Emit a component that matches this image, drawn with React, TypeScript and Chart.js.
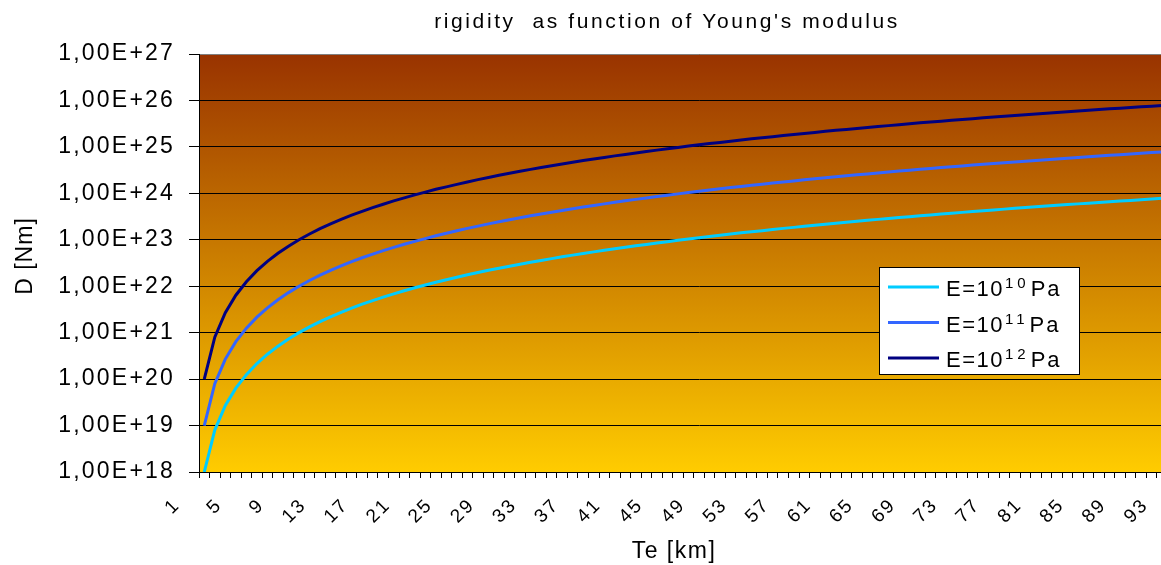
import React, { useEffect, useRef } from "react";
import { Chart, registerables } from "chart.js";
Chart.register(...registerables);

const chartTitle = "rigidity  as function of Young's modulus";
const xAxisTitle = "Te [km]";
const yAxisTitle = "D [Nm]";

const teLabels = [
  "1", "2", "3", "4", "5", "6", "7", "8", "9", "10",
  "11", "12", "13", "14", "15", "16", "17", "18", "19", "20",
  "21", "22", "23", "24", "25", "26", "27", "28", "29", "30",
  "31", "32", "33", "34", "35", "36", "37", "38", "39", "40",
  "41", "42", "43", "44", "45", "46", "47", "48", "49", "50",
  "51", "52", "53", "54", "55", "56", "57", "58", "59", "60",
  "61", "62", "63", "64", "65", "66", "67", "68", "69", "70",
  "71", "72", "73", "74", "75", "76", "77", "78", "79", "80",
  "81", "82", "83", "84", "85", "86", "87", "88", "89", "90",
  "91", "92", "93", "94", "95",
];

const rigidityE10 = [
  1e18, 8e18, 2.7e19, 6.4e19, 1.25e20, 2.16e20, 3.43e20, 5.12e20, 7.29e20, 1e21,
  1.33e21, 1.73e21, 2.2e21, 2.74e21, 3.38e21, 4.1e21, 4.91e21, 5.83e21, 6.86e21, 8e21,
  9.26e21, 1.06e22, 1.22e22, 1.38e22, 1.56e22, 1.76e22, 1.97e22, 2.2e22, 2.44e22, 2.7e22,
  2.98e22, 3.28e22, 3.59e22, 3.93e22, 4.29e22, 4.67e22, 5.07e22, 5.49e22, 5.93e22, 6.4e22,
  6.89e22, 7.41e22, 7.95e22, 8.52e22, 9.11e22, 9.73e22, 1.04e23, 1.11e23, 1.18e23, 1.25e23,
  1.33e23, 1.41e23, 1.49e23, 1.57e23, 1.66e23, 1.76e23, 1.85e23, 1.95e23, 2.05e23, 2.16e23,
  2.27e23, 2.38e23, 2.5e23, 2.62e23, 2.75e23, 2.87e23, 3.01e23, 3.14e23, 3.29e23, 3.43e23,
  3.58e23, 3.73e23, 3.89e23, 4.05e23, 4.22e23, 4.39e23, 4.57e23, 4.75e23, 4.93e23, 5.12e23,
  5.31e23, 5.51e23, 5.72e23, 5.93e23, 6.14e23, 6.36e23, 6.59e23, 6.81e23, 7.05e23, 7.29e23,
  7.54e23, 7.79e23, 8.04e23, 8.31e23, 8.57e23,
];

const rigidityE11 = [
  1e19, 8e19, 2.7e20, 6.4e20, 1.25e21, 2.16e21, 3.43e21, 5.12e21, 7.29e21, 1e22,
  1.33e22, 1.73e22, 2.2e22, 2.74e22, 3.38e22, 4.1e22, 4.91e22, 5.83e22, 6.86e22, 8e22,
  9.26e22, 1.06e23, 1.22e23, 1.38e23, 1.56e23, 1.76e23, 1.97e23, 2.2e23, 2.44e23, 2.7e23,
  2.98e23, 3.28e23, 3.59e23, 3.93e23, 4.29e23, 4.67e23, 5.07e23, 5.49e23, 5.93e23, 6.4e23,
  6.89e23, 7.41e23, 7.95e23, 8.52e23, 9.11e23, 9.73e23, 1.04e24, 1.11e24, 1.18e24, 1.25e24,
  1.33e24, 1.41e24, 1.49e24, 1.57e24, 1.66e24, 1.76e24, 1.85e24, 1.95e24, 2.05e24, 2.16e24,
  2.27e24, 2.38e24, 2.5e24, 2.62e24, 2.75e24, 2.87e24, 3.01e24, 3.14e24, 3.29e24, 3.43e24,
  3.58e24, 3.73e24, 3.89e24, 4.05e24, 4.22e24, 4.39e24, 4.57e24, 4.75e24, 4.93e24, 5.12e24,
  5.31e24, 5.51e24, 5.72e24, 5.93e24, 6.14e24, 6.36e24, 6.59e24, 6.81e24, 7.05e24, 7.29e24,
  7.54e24, 7.79e24, 8.04e24, 8.31e24, 8.57e24,
];

const rigidityE12 = [
  1e20, 8e20, 2.7e21, 6.4e21, 1.25e22, 2.16e22, 3.43e22, 5.12e22, 7.29e22, 1e23,
  1.33e23, 1.73e23, 2.2e23, 2.74e23, 3.38e23, 4.1e23, 4.91e23, 5.83e23, 6.86e23, 8e23,
  9.26e23, 1.06e24, 1.22e24, 1.38e24, 1.56e24, 1.76e24, 1.97e24, 2.2e24, 2.44e24, 2.7e24,
  2.98e24, 3.28e24, 3.59e24, 3.93e24, 4.29e24, 4.67e24, 5.07e24, 5.49e24, 5.93e24, 6.4e24,
  6.89e24, 7.41e24, 7.95e24, 8.52e24, 9.11e24, 9.73e24, 1.04e25, 1.11e25, 1.18e25, 1.25e25,
  1.33e25, 1.41e25, 1.49e25, 1.57e25, 1.66e25, 1.76e25, 1.85e25, 1.95e25, 2.05e25, 2.16e25,
  2.27e25, 2.38e25, 2.5e25, 2.62e25, 2.75e25, 2.87e25, 3.01e25, 3.14e25, 3.29e25, 3.43e25,
  3.58e25, 3.73e25, 3.89e25, 4.05e25, 4.22e25, 4.39e25, 4.57e25, 4.75e25, 4.93e25, 5.12e25,
  5.31e25, 5.51e25, 5.72e25, 5.93e25, 6.14e25, 6.36e25, 6.59e25, 6.81e25, 7.05e25, 7.29e25,
  7.54e25, 7.79e25, 8.04e25, 8.31e25, 8.57e25,
];

const yTickValues = [1e18, 1e19, 1e20, 1e21, 1e22, 1e23, 1e24, 1e25, 1e26, 1e27];
const yTickLabels = [
  "1,00E+18", "1,00E+19", "1,00E+20", "1,00E+21", "1,00E+22",
  "1,00E+23", "1,00E+24", "1,00E+25", "1,00E+26", "1,00E+27",
];

const legendBase = ["E=10", "E=10", "E=10"];
const legendExponent = ["10", "11", "12"];
const legendUnit = ["Pa", "Pa", "Pa"];
const seriesColors = ["#00CCFF", "#3366FF", "#000080"];

const FONT = '"Liberation Sans", Arial, sans-serif';

const decorPlugin = {
  id: "decor",
  beforeLayout(chart: any) {
    chart.ctx.letterSpacing = "2.2px";
  },
  beforeDraw(chart: any) {
    const { ctx, chartArea: a } = chart;
    ctx.save();
    ctx.fillStyle = "#ffffff";
    ctx.fillRect(0, 0, chart.width, chart.height);
    const g = ctx.createLinearGradient(0, a.top, 0, a.bottom);
    g.addColorStop(0, "#993300");
    g.addColorStop(1, "#FFCC00");
    ctx.fillStyle = g;
    ctx.fillRect(a.left, a.top, a.right - a.left, a.bottom - a.top);
    ctx.restore();
    ctx.letterSpacing = "2.2px";
  },
  afterDraw(chart: any) {
    const { ctx } = chart;
    ctx.save();
    ctx.fillStyle = "#000";
    ctx.textBaseline = "alphabetic";

    // main title
    ctx.letterSpacing = "2.6px";
    ctx.font = `21px ${FONT}`;
    ctx.textAlign = "center";
    ctx.fillText(chartTitle, 667, 28);

    // x axis title
    ctx.letterSpacing = "1.5px";
    ctx.font = `23px ${FONT}`;
    ctx.fillText(xAxisTitle, 674, 558);

    // y axis title
    ctx.save();
    ctx.letterSpacing = "1px";
    ctx.font = `23px ${FONT}`;
    ctx.translate(32, 256);
    ctx.rotate(-Math.PI / 2);
    ctx.textAlign = "center";
    ctx.fillText(yAxisTitle, 0, 0);
    ctx.restore();

    // legend
    const bx = 879.5, by = 267.5, bw = 200, bh = 107;
    ctx.fillStyle = "#ffffff";
    ctx.fillRect(bx, by, bw, bh);
    ctx.strokeStyle = "#000";
    ctx.lineWidth = 1;
    ctx.strokeRect(bx, by, bw, bh);
    ctx.textAlign = "left";
    for (let i = 0; i < legendBase.length; i++) {
      const ly = 287 + i * 35.5;
      ctx.strokeStyle = seriesColors[i];
      ctx.lineWidth = 3;
      ctx.beginPath();
      ctx.moveTo(888, ly);
      ctx.lineTo(939, ly);
      ctx.stroke();
      ctx.fillStyle = "#000";
      ctx.letterSpacing = "1.5px";
      ctx.font = `22px ${FONT}`;
      let x = 946;
      ctx.fillText(legendBase[i], x, ly + 9);
      x += ctx.measureText(legendBase[i]).width + 1;
      ctx.font = `15px ${FONT}`;
      ctx.letterSpacing = "4px";
      ctx.fillText(legendExponent[i], x, ly + 1);
      x += ctx.measureText(legendExponent[i]).width + 1;
      ctx.font = `22px ${FONT}`;
      ctx.letterSpacing = "2px";
      ctx.fillText(legendUnit[i], x, ly + 9);
    }
    ctx.restore();
  },
};

export default function App() {
  const ref = useRef<HTMLCanvasElement | null>(null);

  useEffect(() => {
    if (!ref.current) return;
    const chart = new Chart(ref.current, {
      type: "line",
      data: {
        labels: teLabels,
        datasets: [
          { label: "E=10^10 Pa", data: rigidityE10, borderColor: seriesColors[0], borderWidth: 3, pointRadius: 0, fill: false, tension: 0 },
          { label: "E=10^11 Pa", data: rigidityE11, borderColor: seriesColors[1], borderWidth: 3, pointRadius: 0, fill: false, tension: 0 },
          { label: "E=10^12 Pa", data: rigidityE12, borderColor: seriesColors[2], borderWidth: 3, pointRadius: 0, fill: false, tension: 0 },
        ],
      },
      options: {
        responsive: false,
        devicePixelRatio: 1,
        animation: false,
        layout: { padding: { top: 54, left: 0, right: 41, bottom: 0 } },
        plugins: {
          legend: { display: false },
          title: { display: false },
          tooltip: { enabled: false },
        },
        scales: {
          x: {
            type: "category",
            offset: true,
            afterFit: (s: any) => { s.height = 93; },
            ticks: {
              autoSkip: false,
              minRotation: 45,
              maxRotation: 45,
              labelOffset: -27,
              padding: 16,
              color: "#000",
              font: { family: FONT, size: 19 },
              callback: (_v: any, i: number) => (i % 4 === 0 ? teLabels[i] : ""),
            },
            grid: {
              offset: true,
              drawOnChartArea: false,
              drawTicks: true,
              tickLength: 6,
              tickColor: "#000",
              color: "#000",
            },
            border: { display: true, color: "#000", width: 1 },
          },
          y: {
            type: "logarithmic",
            min: 1e18,
            max: 1e27,
            afterBuildTicks: (s: any) => {
              s.ticks = yTickValues.map((v) => ({ value: v }));
            },
            afterFit: (s: any) => { s.width = 199; },
            ticks: {
              autoSkip: false,
              padding: 14,
              color: "#000",
              font: { family: FONT, size: 23 },
              callback: (_v: any, i: number) => yTickLabels[i],
            },
            grid: {
              color: (c: any) => (c.tick && c.tick.value === 1e27 ? "#808080" : "#000"),
              lineWidth: 1,
              drawTicks: true,
              tickLength: 10,
              tickColor: "#000",
            },
            border: { display: true, color: "#000", width: 1 },
          },
        },
      },
      plugins: [decorPlugin],
    });
    return () => chart.destroy();
  }, []);

  return (
    <div style={{ position: "absolute", left: 0, top: 0, width: 1161, height: 565, overflow: "hidden", background: "#fff" }}>
      <canvas ref={ref} width={1240} height={565} style={{ width: 1240, height: 565, display: "block" }} />
    </div>
  );
}
